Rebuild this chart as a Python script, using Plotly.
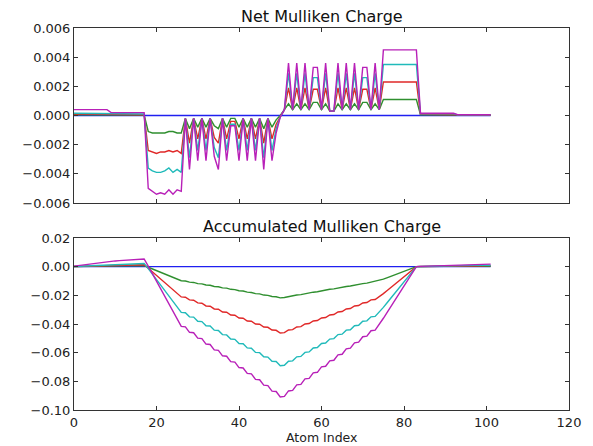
import plotly.graph_objects as go

# ---------------- data ----------------
atom_index = list(range(102))

net_blue = [0.0] * 102

net_green = [
    0.00005, 0.00005, 0.00005, 0.00005, 0.00005, 0.00005, 0.00005, 0.00005, 0.00005,
    0.00003, 0.00003, 0.00003, 0.00003, 0.00003, 0.00003, 0.00003, 0.00003, 0.00003,
    -0.0011, -0.0012, -0.0012, -0.0012, -0.0012, -0.0011, -0.0011, -0.0012, -0.0012,
    -0.0002, -0.0009, -0.0002, -0.0008, -0.0002, -0.0008, -0.0002, -0.0007, -0.0009, -0.0002, -0.0008, -0.0002,
    -0.0002, -0.0008, -0.0002, -0.0008, -0.0002, -0.0008, -0.0002, -0.0009, -0.0002, -0.0008, -0.0003, 0.0,
    0.0004, 0.0008, 0.0004, 0.0008, 0.0004, 0.0008, 0.0004, 0.0009, 0.0009, 0.0004, 0.0008, 0.0003,
    0.0003, 0.0008, 0.0004, 0.0008, 0.0004, 0.0008, 0.0004, 0.0009, 0.0009, 0.0004, 0.0008, 0.0004,
    0.0011, 0.0011, 0.0011, 0.0011, 0.0011, 0.0011, 0.0011, 0.0011, 0.0011,
    0.00004, 0.00004, 0.00004, 0.00004, 0.00004, 0.00004, 0.00004, 0.00004, 0.00004,
    0.00002, 0.00002, 0.00002, 0.00002, 0.00002, 0.00002, 0.00002, 0.00002, 0.00002,
]

net_red = [
    0.0001, 0.0001, 0.0001, 0.0001, 0.0001, 0.0001, 0.0001, 0.0001, 0.0001,
    0.00005, 0.00005, 0.00005, 0.00005, 0.00005, 0.00005, 0.00005, 0.00005, 0.00005,
    -0.0024, -0.0025, -0.0026, -0.0025, -0.0025, -0.0024, -0.0025, -0.0024, -0.0026,
    -0.0002, -0.0019, -0.0002, -0.0016, -0.0002, -0.0016, -0.0002, -0.0015, -0.0019, -0.0002, -0.0016, -0.0004,
    -0.0004, -0.0016, -0.0002, -0.0016, -0.0002, -0.0016, -0.0002, -0.0019, -0.0002, -0.0016, -0.0006, -0.0001,
    0.0004, 0.0019, 0.0004, 0.0019, 0.0004, 0.0019, 0.0004, 0.0018, 0.0018, 0.0004, 0.0019, 0.0003,
    0.0003, 0.0019, 0.0004, 0.0019, 0.0004, 0.0019, 0.0004, 0.0018, 0.0018, 0.0004, 0.0019, 0.0004,
    0.0023, 0.0023, 0.0023, 0.0023, 0.0023, 0.0023, 0.0023, 0.0023, 0.0023,
    0.00008, 0.00008, 0.00008, 0.00008, 0.00008, 0.00008, 0.00008, 0.00008, 0.00008,
    0.00003, 0.00003, 0.00003, 0.00003, 0.00003, 0.00003, 0.00003, 0.00003, 0.00003,
]

net_cyan = [
    0.00015, 0.00015, 0.00015, 0.00015, 0.00015, 0.00015, 0.00015, 0.00015, 0.00015,
    0.0001, 0.0001, 0.0001, 0.0001, 0.0001, 0.0001, 0.0001, 0.0001, 0.0001,
    -0.0036, -0.0038, -0.0039, -0.0039, -0.0038, -0.0036, -0.0039, -0.0037, -0.0039,
    -0.0002, -0.0029, -0.0002, -0.0024, -0.0002, -0.0024, -0.0002, -0.0022, -0.0029, -0.0002, -0.0024, -0.0006,
    -0.0006, -0.0024, -0.0002, -0.0024, -0.0002, -0.0024, -0.0002, -0.0029, -0.0002, -0.0024, -0.0009, -0.0001,
    0.0004, 0.0029, 0.0004, 0.0029, 0.0004, 0.0029, 0.0004, 0.0026, 0.0026, 0.0004, 0.0029, 0.0003,
    0.0003, 0.0029, 0.0004, 0.0029, 0.0004, 0.0029, 0.0004, 0.0026, 0.0026, 0.0004, 0.0029, 0.0004,
    0.0035, 0.0035, 0.0035, 0.0035, 0.0035, 0.0035, 0.0035, 0.0035, 0.0035,
    0.00012, 0.00012, 0.00012, 0.00012, 0.00012, 0.00012, 0.00012, 0.00012, 0.00012,
    0.00004, 0.00004, 0.00004, 0.00004, 0.00004, 0.00004, 0.00004, 0.00004, 0.00004,
]

net_magenta = [
    0.0004, 0.0004, 0.0004, 0.0004, 0.0004, 0.0004, 0.0004, 0.0004, 0.0004,
    0.0002, 0.0002, 0.0002, 0.0002, 0.0002, 0.0002, 0.0002, 0.0002, 0.0002,
    -0.0050, -0.0052, -0.0054, -0.0053, -0.0054, -0.0051, -0.0054, -0.0051, -0.0052,
    -0.0002, -0.0037, -0.0002, -0.0031, -0.0002, -0.0031, -0.0002, -0.0028, -0.0037, -0.0002, -0.0031, -0.0007,
    -0.0007, -0.0031, -0.0002, -0.0031, -0.0002, -0.0031, -0.0002, -0.0037, -0.0002, -0.0031, -0.0012, -0.0001,
    0.0004, 0.0036, 0.0004, 0.0036, 0.0004, 0.0036, 0.0004, 0.0033, 0.0033, 0.0004, 0.0036, 0.0003,
    0.0003, 0.0036, 0.0004, 0.0036, 0.0004, 0.0036, 0.0004, 0.0033, 0.0033, 0.0004, 0.0036, 0.0004,
    0.0045, 0.0045, 0.0045, 0.0045, 0.0045, 0.0045, 0.0045, 0.0045, 0.0045,
    0.00015, 0.00015, 0.00015, 0.00015, 0.00015, 0.00015, 0.00015, 0.00015, 0.00015,
    0.00005, 0.00005, 0.00005, 0.00005, 0.00005, 0.00005, 0.00005, 0.00005, 0.00005,
]

acc_blue = [0.0] * 102

acc_green = [
    0.00005, 0.0001, 0.00015, 0.0002, 0.00025, 0.0003, 0.00035, 0.0004, 0.00045,
    0.0005, 0.0005, 0.0005, 0.0006, 0.0006, 0.0006, 0.0007, 0.0007, 0.0007,
    -0.0004, -0.0016, -0.0028, -0.0040, -0.0052, -0.0063, -0.0074, -0.0086, -0.0098,
    -0.0100, -0.0108, -0.0110, -0.0118, -0.0120, -0.0128, -0.0130, -0.0138, -0.0140, -0.0148, -0.0150, -0.0158,
    -0.0160, -0.0168, -0.0170, -0.0178, -0.0180, -0.0188, -0.0190, -0.0198, -0.0200, -0.0208, -0.0210, -0.0218,
    -0.0215, -0.0208, -0.0205, -0.0198, -0.0195, -0.0188, -0.0185, -0.0178, -0.0175, -0.0168, -0.0165, -0.0158,
    -0.0155, -0.0148, -0.0145, -0.0138, -0.0135, -0.0128, -0.0125, -0.0118, -0.0115, -0.0108, -0.0105, -0.0098,
    -0.0087, -0.0076, -0.0065, -0.0054, -0.0044, -0.0033, -0.0022, -0.0011, 0.0000,
    0.0000, 0.0001, 0.0001, 0.0001, 0.0001, 0.0002, 0.0002, 0.0002, 0.0002,
    0.0002, 0.0002, 0.0003, 0.0003, 0.0003, 0.0003, 0.0003, 0.0003, 0.0003,
]

acc_red = [
    0.0001, 0.0002, 0.0003, 0.0004, 0.0005, 0.0006, 0.0007, 0.0008, 0.0009,
    0.00095, 0.0010, 0.00105, 0.0011, 0.00115, 0.0012, 0.00125, 0.0013, 0.00135,
    -0.0011, -0.0036, -0.0062, -0.0087, -0.0112, -0.0136, -0.0161, -0.0185, -0.0211,
    -0.0213, -0.0232, -0.0234, -0.0253, -0.0255, -0.0274, -0.0276, -0.0295, -0.0297, -0.0316, -0.0318, -0.0337,
    -0.0339, -0.0358, -0.0360, -0.0379, -0.0381, -0.0400, -0.0402, -0.0421, -0.0423, -0.0442, -0.0444, -0.0463,
    -0.0460, -0.0442, -0.0439, -0.0421, -0.0418, -0.0400, -0.0397, -0.0379, -0.0376, -0.0358, -0.0355, -0.0337,
    -0.0334, -0.0316, -0.0313, -0.0295, -0.0292, -0.0274, -0.0271, -0.0253, -0.0250, -0.0232, -0.0229, -0.0211,
    -0.0188, -0.0164, -0.0141, -0.0117, -0.0094, -0.0070, -0.0047, -0.0023, 0.0000,
    0.0001, 0.0001, 0.0002, 0.0002, 0.0003, 0.0003, 0.0004, 0.0004, 0.0005,
    0.0005, 0.0005, 0.0005, 0.0006, 0.0006, 0.0006, 0.0006, 0.0007, 0.0007,
]

acc_cyan = [
    0.00015, 0.0003, 0.00045, 0.0006, 0.00075, 0.0009, 0.00105, 0.0012, 0.00135,
    0.00145, 0.00155, 0.00165, 0.00175, 0.00185, 0.00195, 0.00205, 0.00215, 0.00225,
    -0.0014, -0.0052, -0.0091, -0.0130, -0.0168, -0.0204, -0.0243, -0.0280, -0.0319,
    -0.0321, -0.0350, -0.0352, -0.0381, -0.0383, -0.0412, -0.0414, -0.0443, -0.0445, -0.0474, -0.0476, -0.0505,
    -0.0507, -0.0536, -0.0538, -0.0567, -0.0569, -0.0598, -0.0600, -0.0629, -0.0631, -0.0660, -0.0662, -0.0691,
    -0.0688, -0.0660, -0.0657, -0.0629, -0.0626, -0.0598, -0.0595, -0.0567, -0.0564, -0.0536, -0.0533, -0.0505,
    -0.0502, -0.0474, -0.0471, -0.0443, -0.0440, -0.0412, -0.0409, -0.0381, -0.0378, -0.0350, -0.0347, -0.0319,
    -0.0284, -0.0248, -0.0213, -0.0177, -0.0142, -0.0106, -0.0071, -0.0035, 0.0000,
    0.0001, 0.0002, 0.0002, 0.0003, 0.0004, 0.0005, 0.0006, 0.0006, 0.0007,
    0.0007, 0.0008, 0.0008, 0.0008, 0.0009, 0.0009, 0.0010, 0.0010, 0.0010,
]

acc_magenta = [
    0.0004, 0.0008, 0.0012, 0.0016, 0.0020, 0.0024, 0.0028, 0.0032, 0.0036,
    0.0038, 0.0040, 0.0042, 0.0044, 0.0046, 0.0048, 0.0050, 0.0052, 0.0054,
    0.0004, -0.0048, -0.0102, -0.0155, -0.0209, -0.0260, -0.0314, -0.0365, -0.0417,
    -0.0420, -0.0458, -0.0461, -0.0499, -0.0502, -0.0540, -0.0543, -0.0581, -0.0584, -0.0622, -0.0625, -0.0663,
    -0.0666, -0.0704, -0.0707, -0.0745, -0.0748, -0.0786, -0.0789, -0.0827, -0.0830, -0.0868, -0.0871, -0.0909,
    -0.0905, -0.0867, -0.0863, -0.0825, -0.0821, -0.0783, -0.0779, -0.0741, -0.0737, -0.0699, -0.0695, -0.0657,
    -0.0653, -0.0615, -0.0611, -0.0573, -0.0569, -0.0531, -0.0527, -0.0489, -0.0485, -0.0447, -0.0443, -0.0405,
    -0.0360, -0.0315, -0.0270, -0.0225, -0.0180, -0.0135, -0.0090, -0.0045, 0.0000,
    0.0002, 0.0003, 0.0005, 0.0006, 0.0008, 0.0009, 0.0011, 0.0012, 0.0014,
    0.0014, 0.0015, 0.0015, 0.0016, 0.0016, 0.0017, 0.0017, 0.0018, 0.0018,
]

top_yticks = [-0.006, -0.004, -0.002, 0.0, 0.002, 0.004, 0.006]
bottom_yticks = [-0.10, -0.08, -0.06, -0.04, -0.02, 0.0, 0.02]
x_ticks = [0, 20, 40, 60, 80, 100, 120]

colors = ["#2020f0", "#2f8f2f", "#e02828", "#20baba", "#b820b8"]
net_series = [net_blue, net_green, net_red, net_cyan, net_magenta]
acc_series = [acc_blue, acc_green, acc_red, acc_cyan, acc_magenta]

# ---------------- figure ----------------
fig = go.Figure()
for ys, c in zip(net_series, colors):
    fig.add_trace(go.Scatter(x=atom_index, y=ys, mode="lines",
                             line=dict(color=c, width=1.4),
                             xaxis="x", yaxis="y", showlegend=False, hoverinfo="skip"))
for ys, c in zip(acc_series, colors):
    fig.add_trace(go.Scatter(x=atom_index, y=ys, mode="lines",
                             line=dict(color=c, width=1.4),
                             xaxis="x2", yaxis="y2", showlegend=False, hoverinfo="skip"))

axis_common = dict(showgrid=False, zeroline=False, showline=True, linecolor="#333333",
                   linewidth=1, mirror="allticks", ticks="inside", ticklen=4,
                   tickcolor="#333333", tickfont=dict(family="DejaVu Sans", size=13, color="#222222"))

plot_top, plot_bot = 28, 410
span = plot_bot - plot_top
top_dom = [(plot_bot - 203) / span, 1.0]
bot_dom = [0.0, (plot_bot - 238) / span]

fig.update_layout(
    width=593, height=446,
    margin=dict(l=74, r=22, t=plot_top, b=446 - plot_bot),
    paper_bgcolor="white", plot_bgcolor="white",
    font=dict(family="DejaVu Sans", color="#222222"),
    hovermode=False,
    xaxis=dict(axis_common, domain=[0, 1], range=[0, 120], tickvals=x_ticks,
               showticklabels=False, anchor="y"),
    yaxis=dict(axis_common, domain=top_dom, range=[-0.006, 0.006], tickvals=top_yticks,
               tickformat=".3f", anchor="x"),
    xaxis2=dict(axis_common, domain=[0, 1], range=[0, 120], tickvals=x_ticks,
                tickformat="d", anchor="y2"),
    yaxis2=dict(axis_common, domain=bot_dom, range=[-0.10, 0.02], tickvals=bottom_yticks,
                tickformat=".2f", anchor="x2"),
    annotations=[
        dict(text="Net Mulliken Charge", x=0.5, y=(plot_bot - 16.5) / span, xref="paper", yref="paper",
             xanchor="center", yanchor="middle", showarrow=False,
             font=dict(family="DejaVu Sans", size=16, color="#111111")),
        dict(text="Accumulated Mulliken Charge", x=0.5, y=(plot_bot - 226.5) / span, xref="paper", yref="paper",
             xanchor="center", yanchor="middle", showarrow=False,
             font=dict(family="DejaVu Sans", size=16, color="#111111")),
        dict(text="Atom Index", x=0.5, y=(plot_bot - 446) / span, xref="paper", yref="paper",
             xanchor="center", yanchor="bottom", showarrow=False, borderpad=0,
             font=dict(family="DejaVu Sans", size=12.5, color="#222222")),
    ],
)

fig.write_html("out.html")
